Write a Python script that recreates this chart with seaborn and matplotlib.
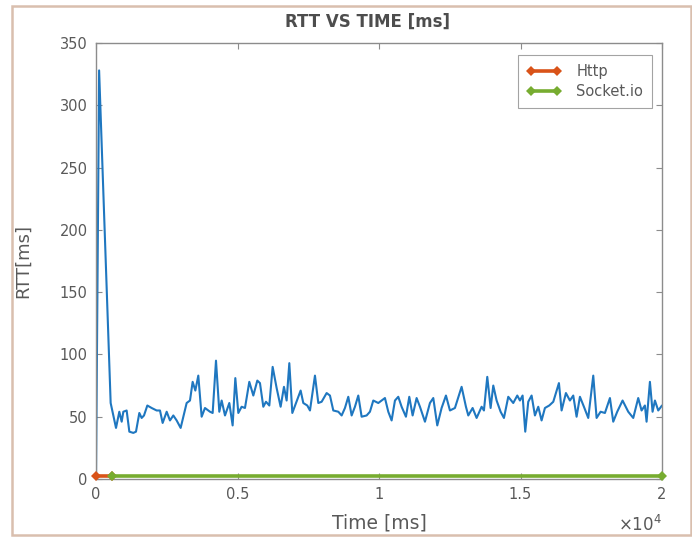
import matplotlib
matplotlib.use("Agg")
import matplotlib.pyplot as plt
import seaborn as sns
import pandas as pd
from matplotlib.patches import Rectangle

# ---- data ----
rtt_time = [0, 110, 518, 707, 824, 907, 966, 1083, 1178, 1319, 1413, 1531, 1613, 1696, 1814, 1967,
            2143, 2261, 2355, 2497, 2614, 2732, 2850, 2991, 3203, 3321, 3415, 3510, 3615, 3733, 3851,
            4028, 4122, 4240, 4357, 4440, 4558, 4711, 4828, 4923, 5029, 5146, 5264, 5417, 5559, 5700,
            5794, 5912, 6006, 6124, 6242, 6383, 6524, 6642, 6736, 6831, 6937, 7066, 7231, 7325, 7466,
            7561, 7737, 7855, 7973, 8150, 8267, 8385, 8562, 8680, 8797, 8915, 9033, 9150, 9268, 9386,
            9563, 9680, 9798, 9975, 10210, 10328, 10446, 10564, 10681, 10799, 10952, 11070, 11188,
            11329, 11447, 11624, 11800, 11918, 12059, 12212, 12366, 12507, 12683, 12919, 13072, 13155,
            13308, 13449, 13626, 13708, 13826, 13944, 14038, 14156, 14297, 14415, 14568, 14744, 14886,
            14980, 15074, 15168, 15274, 15392, 15510, 15628, 15745, 15863, 16016, 16158, 16358, 16452,
            16605, 16746, 16864, 16982, 17100, 17241, 17394, 17571, 17689, 17830, 17983, 18160, 18277,
            18418, 18607, 18807, 18984, 19160, 19278, 19396, 19455, 19573, 19667, 19750, 19867, 20000]
rtt_value = [0, 328, 61, 41, 54, 46, 54, 55, 38, 37, 38, 53, 49, 51, 59, 57,
             55, 55, 45, 54, 47, 51, 47, 41, 61, 63, 78, 71, 83, 50, 57,
             54, 53, 95, 54, 63, 51, 61, 43, 81, 53, 58, 57, 78, 67, 79,
             77, 58, 62, 59, 90, 73, 58, 74, 63, 93, 53, 61, 71, 61, 59,
             55, 83, 61, 62, 69, 67, 55, 54, 51, 57, 66, 51, 58, 67, 50,
             51, 54, 63, 61, 65, 54, 47, 63, 66, 58, 50, 66, 51,
             65, 58, 46, 61, 65, 43, 57, 67, 55, 57, 74, 58, 51,
             57, 49, 58, 55, 82, 57, 75, 63, 54, 49, 66, 61, 67,
             63, 67, 38, 62, 67, 51, 58, 47, 57, 59, 62, 77, 55,
             69, 63, 67, 50, 66, 58, 49, 83, 49, 54, 53, 65, 46,
             54, 63, 54, 49, 65, 55, 59, 46, 78, 54, 63, 55, 59]

http_time = [0, 550]
http_value = [2.5, 2.5]
socket_time = [550, 20000]
socket_value = [2.5, 2.5]

x_ticks = [0, 5000, 10000, 15000, 20000]
x_tick_labels = ["0", "0.5", "1", "1.5", "2"]
y_ticks = [0, 50, 100, 150, 200, 250, 300, 350]

# ---- style ----
sns.set_style("white")
plt.rcParams["font.family"] = ["DejaVu Sans"]
gray = "#595959"
axis_gray = "#8c8c8c"

fig = plt.figure(figsize=(6.92, 5.40), dpi=100)
ax = fig.add_axes([96 / 692, 1 - 479 / 540, (662 - 96) / 692, (479 - 43) / 540])

df_rtt = pd.DataFrame({"t": rtt_time, "v": rtt_value})
df_http = pd.DataFrame({"t": http_time, "v": http_value})
df_sock = pd.DataFrame({"t": socket_time, "v": socket_value})

sns.lineplot(data=df_rtt, x="t", y="v", ax=ax, color="#1f77c0", linewidth=1.5,
             estimator=None, sort=False, zorder=2)
sns.lineplot(data=df_http, x="t", y="v", ax=ax, color="#D95319", linewidth=2.6,
             marker="D", markersize=5.5, markeredgewidth=0, estimator=None,
             label="Http", zorder=3, clip_on=False)
sns.lineplot(data=df_sock, x="t", y="v", ax=ax, color="#77AC30", linewidth=2.6,
             marker="D", markersize=5.5, markeredgewidth=0, estimator=None,
             label="Socket.io", zorder=3, clip_on=False)

ax.set_xlim(0, 20000)
ax.set_ylim(0, 350)
ax.set_xticks(x_ticks)
ax.set_xticklabels(x_tick_labels)
ax.set_yticks(y_ticks)

for s in ax.spines.values():
    s.set_color(axis_gray)
    s.set_linewidth(1.0)
    s.set_visible(True)

ax.tick_params(axis="both", which="both", direction="in", length=4, width=0.8,
               color=axis_gray, labelcolor=gray, labelsize=10.5,
               top=True, right=True, bottom=True, left=True, pad=6)

ax.set_title("RTT VS TIME [ms]", fontsize=12, fontweight="semibold", color="#4d4d4d",
             pad=12, x=0.48)
ax.set_xlabel("Time [ms]", fontsize=13.5, color=gray, labelpad=8)
ax.set_ylabel("RTT[ms]", fontsize=13, color=gray, labelpad=20)
ax.text(1.0, -0.082, r"$\times10^{4}$", transform=ax.transAxes, ha="right", va="top",
        fontsize=12, color=gray)

leg = ax.legend(loc="upper right", bbox_to_anchor=(0.9823, 0.9725), borderaxespad=0,
                numpoints=2, handlelength=2.4, frameon=True, fancybox=False, fontsize=10.5,
                borderpad=0.6, labelspacing=0.35, handletextpad=1.0)
leg.get_frame().set_edgecolor(axis_gray)
leg.get_frame().set_linewidth(0.8)
for t in leg.get_texts():
    t.set_color(gray)

# outer frame around the image
fig.patches.append(Rectangle((12 / 692, 1 - 535 / 540), (691 - 12) / 692, (535 - 6) / 540,
                             transform=fig.transFigure, fill=False,
                             edgecolor="#d9bfae", linewidth=1.8, zorder=-1))

fig.savefig("out.png", dpi=100)
